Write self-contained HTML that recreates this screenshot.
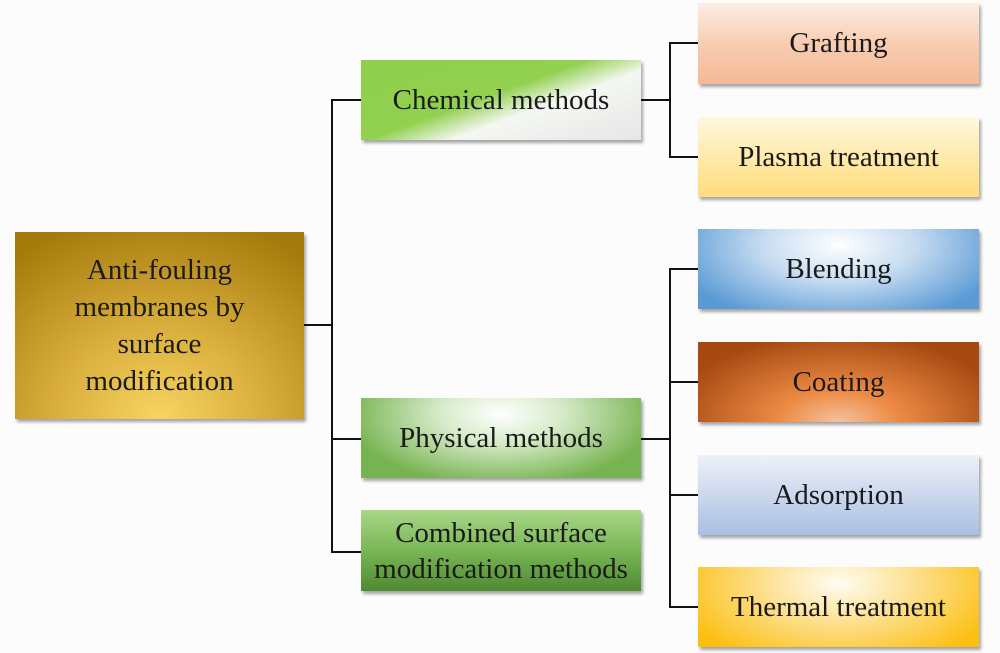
<!DOCTYPE html>
<html><head><style>
html,body{margin:0;padding:0;background:#fcfcfc;}
body{width:1000px;height:653px;position:relative;overflow:hidden;font-family:"Liberation Serif","Times New Roman","DejaVu Serif",serif;color:#1a1a1a;}
.b{position:absolute;display:flex;align-items:center;justify-content:center;text-align:center;font-size:29px;line-height:37px;box-shadow:2px 3px 3px rgba(0,0,0,0.35);box-sizing:border-box;white-space:nowrap;}
.l{position:absolute;background:#111;}
</style></head><body>
<div class="b" style="left:15px;top:232px;width:289px;height:187px;background:radial-gradient(ellipse 80% 110% at 50% 100%,#f8d462 0%,#d9ae3c 45%,#a57b0c 100%);">Anti-fouling<br>membranes by<br>surface<br>modification</div>
<div class="b" style="left:361px;top:60px;width:280px;height:80px;background:linear-gradient(160deg,#8ecf4c 0%,#92d050 45%,#f4f7f2 62%,#e6e6e6 100%);">Chemical methods</div>
<div class="b" style="left:361px;top:398px;width:280px;height:80px;background:radial-gradient(ellipse 55% 90% at 50% 20%,#ffffff 0%,#d6ebc8 40%,#77b350 100%);">Physical methods</div>
<div class="b" style="left:361px;top:510px;width:280px;height:81px;line-height:36px;background:linear-gradient(180deg,#a9d789 0%,#79b655 50%,#4f8a33 100%);">Combined surface<br>modification methods</div>
<div class="b" style="left:698px;top:3px;width:281px;height:81px;background:linear-gradient(180deg,#fdeee6 0%,#f7cdb2 50%,#f4b995 100%);">Grafting</div>
<div class="b" style="left:698px;top:117px;width:281px;height:80px;background:linear-gradient(180deg,#fff7e0 0%,#ffe9a6 55%,#ffdc7c 100%);">Plasma treatment</div>
<div class="b" style="left:698px;top:229px;width:281px;height:80px;background:radial-gradient(ellipse 60% 100% at 50% 20%,#ffffff 0%,#c6dcf1 45%,#5b9bd5 100%);">Blending</div>
<div class="b" style="left:698px;top:342px;width:281px;height:80px;background:radial-gradient(ellipse 60% 110% at 50% 100%,#f5c2a0 0%,#ed8b45 35%,#a74a12 100%);">Coating</div>
<div class="b" style="left:698px;top:455px;width:281px;height:80px;background:linear-gradient(180deg,#eef1f8 0%,#c8d5ec 55%,#a9bfe3 100%);">Adsorption</div>
<div class="b" style="left:698px;top:567px;width:281px;height:80px;background:radial-gradient(ellipse 60% 110% at 50% 20%,#fffdf2 0%,#fde39b 40%,#fcbf10 100%);">Thermal treatment</div>
<div class="l" style="left:304px;top:324px;width:28px;height:2px;"></div>
<div class="l" style="left:331px;top:99px;width:2px;height:454px;"></div>
<div class="l" style="left:331px;top:99px;width:30px;height:2px;"></div>
<div class="l" style="left:331px;top:438px;width:30px;height:2px;"></div>
<div class="l" style="left:331px;top:551px;width:30px;height:2px;"></div>
<div class="l" style="left:641px;top:99px;width:29px;height:2px;"></div>
<div class="l" style="left:669px;top:42px;width:2px;height:116px;"></div>
<div class="l" style="left:669px;top:42px;width:29px;height:2px;"></div>
<div class="l" style="left:669px;top:156px;width:29px;height:2px;"></div>
<div class="l" style="left:641px;top:438px;width:29px;height:2px;"></div>
<div class="l" style="left:669px;top:268px;width:2px;height:339px;"></div>
<div class="l" style="left:669px;top:268px;width:29px;height:2px;"></div>
<div class="l" style="left:669px;top:381px;width:29px;height:2px;"></div>
<div class="l" style="left:669px;top:494px;width:29px;height:2px;"></div>
<div class="l" style="left:669px;top:606px;width:29px;height:2px;"></div>
</body></html>
